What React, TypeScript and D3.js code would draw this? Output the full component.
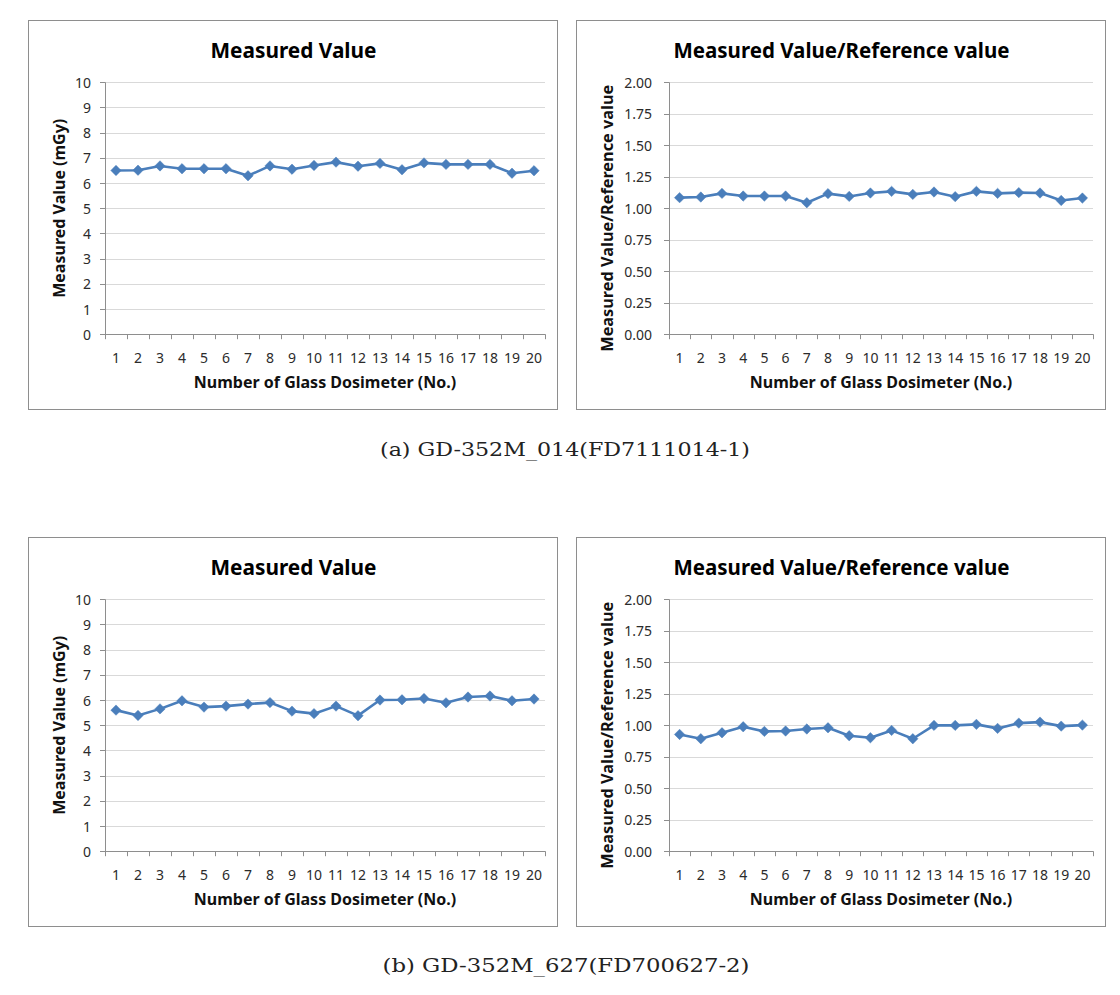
import React from "react";
import * as d3 from "d3";

const categories = ["1","2","3","4","5","6","7","8","9","10","11","12","13","14","15","16","17","18","19","20"];

const measuredA = [6.50,6.51,6.68,6.57,6.57,6.57,6.29,6.68,6.55,6.70,6.83,6.67,6.78,6.53,6.80,6.74,6.74,6.74,6.39,6.49];
const ratioA = [1.084,1.089,1.118,1.097,1.097,1.097,1.044,1.116,1.094,1.121,1.134,1.110,1.129,1.092,1.134,1.118,1.124,1.121,1.062,1.081];
const measuredB = [5.60,5.39,5.65,5.97,5.72,5.76,5.84,5.90,5.56,5.46,5.76,5.38,6.00,6.01,6.06,5.89,6.12,6.16,5.97,6.04];
const ratioB = [0.927,0.893,0.940,0.988,0.951,0.954,0.970,0.980,0.917,0.901,0.959,0.893,0.999,0.999,1.007,0.975,1.017,1.025,0.993,1.001];

const measuredTicks = [0,1,2,3,4,5,6,7,8,9,10];
const ratioTicks = [0,0.25,0.5,0.75,1.0,1.25,1.5,1.75,2.0];

const titleMeasured = "Measured Value";
const titleRatio = "Measured Value/Reference value";
const yTitleMeasured = "Measured Value (mGy)";
const yTitleRatio = "Measured Value/Reference value";
const xTitle = "Number of Glass Dosimeter (No.)";
const captionA = "(a) GD-352M_014(FD7111014-1)";
const captionB = "(b) GD-352M_627(FD700627-2)";

const FONT = "'Noto Sans', 'Open Sans', sans-serif";
const BLUE = "#4A7EBB";

type PanelProps = {
  x: number; y: number; title: string; yTitle: string; values: number[];
  ticks: number[]; fmt: (v: number) => string; left: number; labelGap: number;
  titleSize: number; yTitleShift: number; yTitleSize: number;
};

function Panel({ x, y, title, yTitle, values, ticks, fmt, left, labelGap, titleSize, yTitleShift, yTitleSize }: PanelProps) {
  const W = 529, H = 389;
  const right = 517, top = 62.3, bottom = 314.2;
  const xs = d3.scaleBand<string>().domain(categories).range([left, right]);
  const ys = d3.scaleLinear().domain([ticks[0], ticks[ticks.length - 1]]).range([bottom, top]);
  const cx = (i: number) => (xs(categories[i]) as number) + xs.bandwidth() / 2;
  const line = d3.line<number>().x((_, i) => cx(i)).y((v) => ys(v));
  const bounds = categories.map((c) => xs(c) as number).concat([right]);
  const ds = 5.2;
  return (
    <g transform={`translate(${x},${y})`}>
      <rect x={0.5} y={0.5} width={W} height={H} fill="#fff" stroke="#8e8e8e" strokeWidth={1} />
      <text x={W / 2 + 1} y={30} textAnchor="middle" dominantBaseline="central" fontFamily={FONT} fontWeight={700} fontSize={titleSize} fill="#000">{title}</text>
      {ticks.map((t) => (
        <g key={t}>
          {t !== ticks[0] && <line x1={left} x2={right} y1={Math.round(ys(t)) + 0.5} y2={Math.round(ys(t)) + 0.5} stroke="#d9d9d9" strokeWidth={1} />}
          <line x1={left - 5} x2={left} y1={Math.round(ys(t)) + 0.5} y2={Math.round(ys(t)) + 0.5} stroke="#8e8e8e" strokeWidth={1} />
          <text x={left - labelGap} y={ys(t)} textAnchor="end" dominantBaseline="central" fontFamily={FONT} fontSize={14} fill="#2b2b2b">{fmt(t)}</text>
        </g>
      ))}
      <line x1={left + 0.5} x2={left + 0.5} y1={top} y2={bottom} stroke="#8e8e8e" strokeWidth={1} />
      <line x1={left} x2={right} y1={Math.round(bottom) + 0.5} y2={Math.round(bottom) + 0.5} stroke="#8e8e8e" strokeWidth={1} />
      {bounds.map((b, i) => (
        <line key={i} x1={Math.round(b) + 0.5} x2={Math.round(b) + 0.5} y1={bottom} y2={bottom + 5} stroke="#8e8e8e" strokeWidth={1} />
      ))}
      {categories.map((c, i) => (
        <text key={c} x={cx(i)} y={337} textAnchor="middle" dominantBaseline="central" fontFamily={FONT} fontSize={14} fill="#2b2b2b">{c}</text>
      ))}
      <text x={(left + right) / 2} y={362} textAnchor="middle" dominantBaseline="central" fontFamily={FONT} fontWeight={700} fontSize={16} fill="#111">{xTitle}</text>
      <text transform={`translate(31,${(top + bottom) / 2 + yTitleShift}) rotate(-90)`} textAnchor="middle" dominantBaseline="central" fontFamily={FONT} fontWeight={700} fontSize={yTitleSize} fill="#111">{yTitle}</text>
      <path d={line(values) || ""} fill="none" stroke={BLUE} strokeWidth={2.6} strokeLinejoin="round" />
      {values.map((v, i) => (
        <path key={i} d={`M${cx(i)},${ys(v) - ds}L${cx(i) + ds},${ys(v)}L${cx(i)},${ys(v) + ds}L${cx(i) - ds},${ys(v)}Z`} fill={BLUE} stroke={BLUE} strokeWidth={0.5} />
      ))}
    </g>
  );
}

export default function App() {
  const fmtInt = (v: number) => d3.format("d")(v);
  const fmt2 = (v: number) => d3.format(".2f")(v);
  return (
    <svg width={1120} height={995} style={{ position: "absolute", left: 0, top: 0, background: "#fff" }}>
      <rect x={0} y={0} width={1120} height={995} fill="#fff" />
      <Panel x={28} y={20} title={titleMeasured} yTitle={yTitleMeasured} values={measuredA} ticks={measuredTicks} fmt={fmtInt} left={77} labelGap={14} titleSize={20.8} yTitleShift={0} yTitleSize={16} />
      <Panel x={576} y={20} title={titleRatio} yTitle={yTitleRatio} values={ratioA} ticks={ratioTicks} fmt={fmt2} left={93} labelGap={17} titleSize={20.5} yTitleShift={10} yTitleSize={16.3} />
      <Panel x={28} y={537} title={titleMeasured} yTitle={yTitleMeasured} values={measuredB} ticks={measuredTicks} fmt={fmtInt} left={77} labelGap={14} titleSize={20.8} yTitleShift={0} yTitleSize={16} />
      <Panel x={576} y={537} title={titleRatio} yTitle={yTitleRatio} values={ratioB} ticks={ratioTicks} fmt={fmt2} left={93} labelGap={17} titleSize={20.5} yTitleShift={10} yTitleSize={16.3} />
      <text x={565} y={449} textAnchor="middle" dominantBaseline="central" fontFamily="'DejaVu Serif', 'Liberation Serif', serif" fontSize={18} fill="#222" textLength={370} lengthAdjust="spacingAndGlyphs">{captionA}</text>
      <text x={566} y={965} textAnchor="middle" dominantBaseline="central" fontFamily="'DejaVu Serif', 'Liberation Serif', serif" fontSize={18} fill="#222" textLength={367} lengthAdjust="spacingAndGlyphs">{captionB}</text>
    </svg>
  );
}
